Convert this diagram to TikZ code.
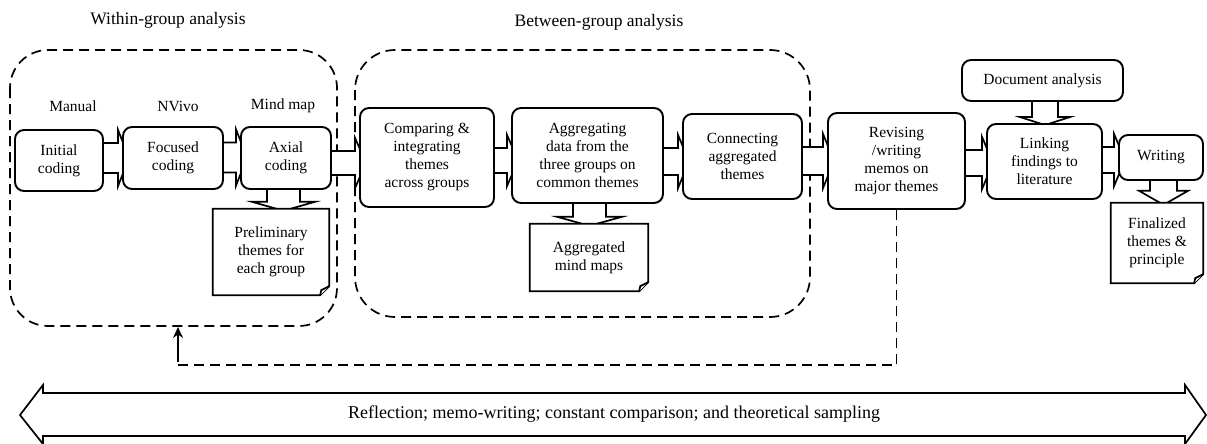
\documentclass[tikz,border=0pt]{standalone}
\usepackage{fontspec}
\setmainfont{Liberation Serif}
\usetikzlibrary{calc,arrows.meta}
\pgfdeclarelayer{bg}
\pgfdeclarelayer{mid}
\pgfsetlayers{bg,mid,main}
\tikzset{
  txt/.style={font=\fontsize{15.5}{18}\selectfont},
  proc/.style={txt, draw, line width=1.9pt, rounded corners=9pt, fill=white, align=center, inner sep=0pt},
  docbox/.style={txt, align=center, inner sep=0pt},
  ttl/.style={font=\fontsize{17.5}{20}\selectfont},
  grp/.style={draw, line width=1.7pt, dash pattern=on 10pt off 6pt},
  barrow/.style={draw, line width=1.7pt, fill=white, line join=miter},
  docline/.style={draw, line width=1.7pt, fill=white, line join=miter},
  fbline/.style={draw, line width=1.7pt, dash pattern=on 10pt off 6pt},
}
% horizontal block arrow: src, dst, y(px), shaft half, wing extra
\newcommand\harr[5]{%
\begin{pgfonlayer}{bg}
\path[barrow] let \p1=(#1.east), \p2=(#2.west), \p3=(0,#3) in
 (\x1-2pt,\y3+#4pt) -- (\x2-4pt,\y3+#4pt) -- (\x2-4pt,\y3+#4pt+#5pt) -- (\x2+7pt,\y3)
 -- (\x2-4pt,\y3-#4pt-#5pt) -- (\x2-4pt,\y3-#4pt) -- (\x1-2pt,\y3-#4pt) -- cycle;
\end{pgfonlayer}}
% vertical block arrow: src, dst, x(px), shaft half, wing extra, head back distance
\newcommand\varr[6]{%
\begin{pgfonlayer}{bg}
\path[barrow] let \p1=(#1.south), \p2=(#2.north), \p3=(#3,0) in
 (\x3-#4pt,\y1+2pt) -- (\x3-#4pt,\y2+#6pt) -- (\x3-#4pt-#5pt,\y2+#6pt) -- (\x3,\y2-2pt)
 -- (\x3+#4pt+#5pt,\y2+#6pt) -- (\x3+#4pt,\y2+#6pt) -- (\x3+#4pt,\y1+2pt) -- cycle;
\end{pgfonlayer}}
% document outline with folded corner
\newcommand\docout[1]{%
\begin{pgfonlayer}{mid}
\path[docline] (#1.north west) -- (#1.north east) -- ($(#1.south east)+(0,-9)$)
 -- ($(#1.south east)+(-9,0)$) -- (#1.south west) -- cycle;
\path[docline] ($(#1.south east)+(0,-9)$) -- ($(#1.south east)+(-8,-5)$) .. controls ($(#1.south east)+(-9,-2)$) .. ($(#1.south east)+(-9,0)$);
\end{pgfonlayer}}

\begin{document}
\begin{tikzpicture}[x=1pt,y=-1pt]
\useasboundingbox (0,0) rectangle (1207,444);

% titles
\node[ttl] (t1) at (168,20) {Within-group analysis};
\node[ttl] (t2) at (599,22) {Between-group analysis};

% group frames
\begin{pgfonlayer}{bg}
\draw[grp, rounded corners=38pt] (10,50) rectangle (337,326);
\draw[grp, rounded corners=40pt] (355,50) rectangle (810,317);
\end{pgfonlayer}

% tool labels
\node[txt] (l1) at (73,106) {Manual};
\node[txt] (l2) at (178,106) {NVivo};
\node[txt] (l3) at (283,106) {Mind map};

% process boxes
\node[proc, minimum width=88, minimum height=61] (init) at (59,160.5) {Initial\\coding};
\node[proc, minimum width=100, minimum height=62] (foc) at (173,158) {Focused\\coding};
\node[proc, minimum width=90, minimum height=62] (axial) at (286,158) {Axial\\coding};
\node[proc, minimum width=134, minimum height=99] (comp) at (427,157.5) {Comparing \&\\integrating\\themes\\across groups};
\node[proc, minimum width=151, minimum height=95] (aggr) at (587.5,155.5) {Aggregating\\data from the\\three groups on\\common themes};
\node[proc, minimum width=119, minimum height=85] (conn) at (742.5,156.5) {Connecting\\aggregated\\themes};
\node[proc, minimum width=137, minimum height=96] (rev) at (896.5,161) {Revising\\/writing\\memos on\\major themes};
\node[proc, minimum width=161, minimum height=41] (docan) at (1042.5,80.5) {Document analysis};
\node[proc, minimum width=115, minimum height=75] (link) at (1044.5,161.5) {Linking\\findings to\\literature};
\node[proc, minimum width=84, minimum height=45] (writ) at (1161,157.5) {Writing};

% documents
\node[docbox, minimum width=116, minimum height=86] (prelim) at (271,252) {Preliminary\\themes for\\each group};
\node[docbox, minimum width=118, minimum height=67] (aggmm) at (589,257.5) {Aggregated\\mind maps};
\node[docbox, minimum width=92, minimum height=80] (final) at (1157,243) {Finalized\\themes \&\\principle};
\docout{prelim}
\docout{aggmm}
\docout{final}

% block arrows
\harr{init}{foc}{158}{15}{13}
\harr{foc}{axial}{157.5}{15}{13}
\harr{axial}{comp}{163}{12}{13}
\harr{comp}{aggr}{160.5}{12.5}{13}
\harr{aggr}{conn}{161.5}{13.5}{13}
\harr{conn}{rev}{161}{14}{13}
\harr{rev}{link}{163}{13}{13}
\harr{link}{writ}{160}{13}{13}
\varr{axial}{prelim}{283.5}{16.5}{15}{7}
\varr{aggr}{aggmm}{589.5}{16.5}{16}{7}
\varr{docan}{link}{1045}{13}{12}{6}
\varr{writ}{final}{1163.5}{13.5}{11}{12}

% feedback loop
\coordinate (fbcorner) at (178,365);
\coordinate (fbend) at (178,327);
\begin{pgfonlayer}{bg}
\draw[fbline] (rev.south) |- (fbcorner);
\draw[line width=1.7pt, -{Stealth[length=11pt,width=10pt]}] ($(fbcorner)+(0,-3)$) -- (fbend);
\end{pgfonlayer}

% bottom double arrow
\node[font=\fontsize{18}{20}\selectfont] (refl) at (614,414.5) {Reflection; memo-writing; constant comparison; and theoretical sampling};
\begin{pgfonlayer}{bg}
\draw[line width=1.7pt, line join=miter] (20,415) -- (43,385) -- (43,393) -- (1185,393) -- (1185,385) -- (1206,415)
 -- (1185,444) -- (1185,436) -- (43,436) -- (43,444) -- cycle;
\end{pgfonlayer}
\end{tikzpicture}
\end{document}
